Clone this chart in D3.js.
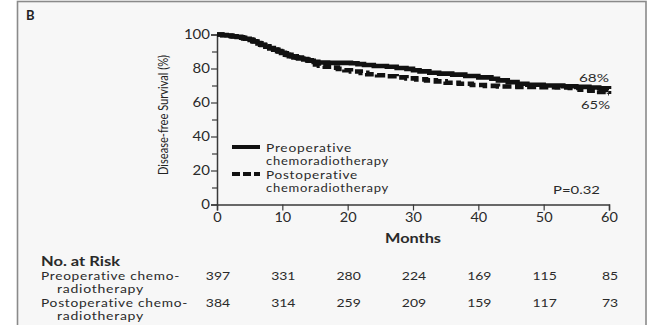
<!DOCTYPE html>
<html>
<head>
<meta charset="utf-8">
<script src="https://cdn.jsdelivr.net/npm/d3@7"></script>
<style>
  html, body { margin: 0; padding: 0; background: #ffffff; }
  svg { display: block; }
  text { font-family: Lato, "Open Sans", "DejaVu Sans", sans-serif; fill: #2b2b2b; }
</style>
</head>
<body>
<svg id="chart" width="648" height="325"></svg>
<script>
// Kaplan-Meier step points: [months, disease-free survival %]
const preopSteps = [
  [0,100],[0.8,99.7],[1.5,99.4],[2.2,99],[3,98.6],[3.7,98.1],[4.3,97.5],[5,96.8],
  [5.6,95.9],[6.2,94.8],[6.8,93.8],[7.4,92.8],[8,91.9],[8.6,91.1],[9.2,90.2],[9.8,89.2],
  [10.4,88.1],[11,87.2],[11.7,86.5],[12.4,85.9],[13.2,85.3],[14,84.6],[14.8,83.9],[15.5,83.5],
  [17,83.3],[20.5,83.1],[21.5,82.6],[22.5,82.1],[24,81.5],[26,81],[27.5,80.3],[29,79.8],
  [30,79.0],[31,78.3],[32.5,77.5],[34,77],[36,76.4],[38,75.6],[40,74.8],[42,74],
  [43,73],[44.5,72],[46,71],[47.5,70.4],[50,70],[53,69.6],[55,69.2],[57,68.8],
  [58.5,68.4],[60,68]
];
const postopSteps = [
  [0,100],[0.8,99.6],[1.6,99.2],[2.4,98.8],[3.2,98.3],[4,97.7],[4.7,97],[5.4,96],
  [6,95],[6.6,94],[7.3,93],[8,92],[8.7,91],[9.4,90],[10,89],[10.7,88],
  [11.4,87.2],[12.2,86.4],[13,85.6],[13.8,84.8],[14.5,83.6],[15,82.4],[15.6,81.6],[16.5,81],
  [17.5,80.5],[18.5,79.8],[19.5,79],[20.5,78.2],[22,77.4],[23,76.6],[24.5,76],[26,75.4],
  [27.5,74.8],[29,74.2],[30.5,73.6],[32,73],[33.5,72.4],[35,71.6],[37,71],[39,70.3],
  [41,69.8],[43,69.4],[46,69.2],[49,69],[52,68.8],[54,68.6],[55.5,67.6],[57,67],
  [58.5,66.2],[59.5,65.4],[60,65]
];

const xTicks = [0, 10, 20, 30, 40, 50, 60];
const yTicks = [0, 20, 40, 60, 80, 100];
const yMinorTicks = [10, 30, 50, 70, 90];

const legendLabels = [["Preoperative", "chemoradiotherapy"], ["Postoperative", "chemoradiotherapy"]];
const riskRowLabels = [["Preoperative chemo-", "radiotherapy"], ["Postoperative chemo-", "radiotherapy"]];
const preopAtRisk = [397, 331, 280, 224, 169, 115, 85];
const postopAtRisk = [384, 314, 259, 209, 159, 117, 73];
const finalLabels = ["68%", "65%"];
const pValue = "P=0.32";

const svg = d3.select("#chart");
const textColor = "#2a2a2a";

// text is drawn with wide glyphs and a touch of tracking
function widened(sel, width) {
  return sel.attr("textLength", width).attr("lengthAdjust", "spacingAndGlyphs");
}

// panel frame
svg.append("rect")
  .attr("x", 17.5).attr("y", 1.5)
  .attr("width", 628.5).attr("height", 330)
  .attr("fill", "#f7f7f7")
  .attr("stroke", "#8a8a8a").attr("stroke-width", 1.6);

svg.append("text")
  .attr("x", 26).attr("y", 19.5)
  .attr("font-size", 13).attr("font-weight", "bold")
  .style("fill", "#222")
  .text("B");

const x = d3.scaleLinear().domain([0, 60]).range([217, 609]);
const y = d3.scaleLinear().domain([0, 100]).range([204.5, 34.5]);

const axisColor = "#3a3a3a";

// y axis with labelled major ticks and unlabelled minor ticks
svg.append("g").attr("transform", `translate(${x(0)},0)`)
  .call(d3.axisLeft(y).tickValues(yTicks).tickSize(6).tickPadding(1))
  .call(g => g.selectAll(".tick text")
    .each(function (d) { widened(d3.select(this), String(d).length * 8.7); }));
svg.append("g").attr("transform", `translate(${x(0)},0)`)
  .call(d3.axisLeft(y).tickValues(yMinorTicks).tickSize(5).tickFormat(""))
  .call(g => g.select(".domain").remove());

svg.append("g").attr("transform", `translate(0,${y(0)})`)
  .call(d3.axisBottom(x).tickValues(xTicks).tickSize(6).tickPadding(3))
  .call(g => g.selectAll(".tick text")
    .each(function (d) { widened(d3.select(this), String(d).length * 8.4); }));

svg.selectAll(".domain").attr("stroke", axisColor).attr("stroke-width", 1.5);
svg.selectAll(".tick line").attr("stroke", axisColor).attr("stroke-width", 1.2);
svg.selectAll(".tick text")
  .attr("font-family", "Lato, 'Open Sans', sans-serif")
  .attr("font-size", 12.5).style("fill", textColor);

// y axis title
svg.append("text")
  .attr("transform", "translate(168,115) rotate(-90)")
  .attr("text-anchor", "middle")
  .attr("font-size", 12.5)
  .attr("textLength", 120).attr("lengthAdjust", "spacingAndGlyphs")
  .style("fill", "#222")
  .text("Disease-free Survival (%)");

// x axis title
widened(svg.append("text")
  .attr("x", 385).attr("y", 242.5)
  .attr("font-size", 12.5).attr("font-weight", "bold")
  .style("fill", textColor)
  .text("Months"), 56);

// survival curves
const line = d3.line()
  .x(d => x(d[0])).y(d => y(d[1]))
  .curve(d3.curveStepAfter);

svg.append("path")
  .datum(postopSteps)
  .attr("d", line)
  .attr("fill", "none").attr("stroke", "#111")
  .attr("stroke-width", 4.6)
  .attr("stroke-dasharray", "9,3.5");

svg.append("path")
  .datum(preopSteps)
  .attr("d", line)
  .attr("fill", "none").attr("stroke", "#111")
  .attr("stroke-width", 4.6);

// end-point labels
widened(svg.append("text")
  .attr("x", 579).attr("y", 81.5)
  .attr("font-size", 12)
  .style("fill", textColor)
  .text(finalLabels[0]), 30);
widened(svg.append("text")
  .attr("x", 581).attr("y", 108.5)
  .attr("font-size", 12)
  .style("fill", textColor)
  .text(finalLabels[1]), 29);

// legend
const legend = [
  { y: 147, dash: null, words: legendLabels[0], w: [86, 123] },
  { y: 174, dash: "8,3", words: legendLabels[1], w: [92, 123] }
];
legend.forEach(item => {
  svg.append("line")
    .attr("x1", 232).attr("x2", 260)
    .attr("y1", item.y).attr("y2", item.y)
    .attr("stroke", "#111").attr("stroke-width", 4)
    .attr("stroke-dasharray", item.dash);
  widened(svg.append("text")
    .attr("x", 266).attr("y", item.y + 4.5)
    .attr("font-size", 10.8).attr("letter-spacing", 0.6)
    .style("fill", textColor)
    .text(item.words[0]), item.w[0]);
  widened(svg.append("text")
    .attr("x", 266).attr("y", item.y + 18)
    .attr("font-size", 10.8).attr("letter-spacing", 0.6)
    .style("fill", textColor)
    .text(item.words[1]), item.w[1]);
});

widened(svg.append("text")
  .attr("x", 553).attr("y", 193.5)
  .attr("font-size", 12)
  .style("fill", textColor)
  .text(pValue), 47);

// number at risk table
widened(svg.append("text")
  .attr("x", 41).attr("y", 265.5)
  .attr("font-size", 12.5).attr("font-weight", "bold")
  .style("fill", textColor)
  .text("No. at Risk"), 79);

const rows = [
  { labels: riskRowLabels[0], widths: [139, 87], values: preopAtRisk, y: 279.5 },
  { labels: riskRowLabels[1], widths: [147, 87], values: postopAtRisk, y: 306.5 }
];
rows.forEach(r => {
  widened(svg.append("text")
    .attr("x", 41).attr("y", r.y)
    .attr("font-size", 11.2).attr("letter-spacing", 0.6)
    .style("fill", textColor)
    .text(r.labels[0]), r.widths[0]);
  widened(svg.append("text")
    .attr("x", 57).attr("y", r.y + 13.5)
    .attr("font-size", 11.2).attr("letter-spacing", 0.6)
    .style("fill", textColor)
    .text(r.labels[1]), r.widths[1]);
  svg.selectAll(null)
    .data(r.values)
    .enter().append("text")
    .attr("x", (d, i) => x(xTicks[i]) + 1)
    .attr("y", r.y)
    .attr("text-anchor", "middle")
    .attr("font-size", 12)
    .attr("textLength", d => String(d).length * 8.1)
    .attr("lengthAdjust", "spacingAndGlyphs")
    .style("fill", textColor)
    .text(d => d);
});
</script>
</body>
</html>
